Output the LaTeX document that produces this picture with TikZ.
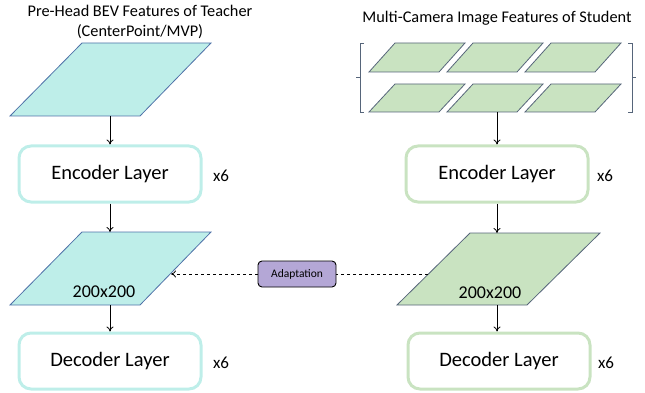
\documentclass[tikz,border=0pt]{standalone}
\usepackage{fontspec}
\setmainfont{Carlito}
\usetikzlibrary{arrows.meta}
\definecolor{tealfill}{HTML}{BEEEE9}
\definecolor{tealedge}{HTML}{4F72A8}
\definecolor{greenfill}{HTML}{C9E3C1}
\definecolor{greenedge}{HTML}{56657A}
\definecolor{adaptfill}{HTML}{B4A7D6}
\tikzset{
  conn/.style={line width=0.8pt,-{To[length=5pt,width=7pt]}},
  layerbox/.style={rounded corners=12pt,line width=3pt,minimum width=182pt,minimum height=56pt,font=\fontsize{20.5}{24}\selectfont,inner sep=0pt},
  tealbox/.style={layerbox,draw=tealfill},
  greenbox/.style={layerbox,draw=greenfill},
  times/.style={font=\fontsize{17}{19}\selectfont},
  ttl/.style={font=\fontsize{16.3}{20}\selectfont,align=center},
  tealpar/.style={fill=tealfill,draw=tealedge,line width=0.8pt},
  greenpar/.style={fill=greenfill,draw=greenedge,line width=0.8pt},
  brack/.style={draw=greenedge,line width=0.7pt},
}
\begin{document}
\begin{tikzpicture}[x=1pt,y=-1pt]
\useasboundingbox (0,0) rectangle (645,393);
% titles
\node[ttl] (t1) at (140,22) {Pre-Head BEV Features of Teacher\\(CenterPoint/MVP)};
\node[ttl] (t2) at (497,18) {Multi-Camera Image Features of Student};
% left top parallelogram
\draw[tealpar] (82,43) -- (211,43) -- (140,116) -- (10,116) -- cycle;
\coordinate (lp1b) at (110,116);
% left encoder
\node[tealbox] (lenc) at (110,174) {Encoder Layer};
\node[times] (lx1) at (221,176) {x6};
% left mid parallelogram
\draw[tealpar] (82,232) -- (211,232) -- (140,305) -- (10,305) -- cycle;
\coordinate (lp2t) at (110,232);
\coordinate (lp2b) at (110,305);
\coordinate (lp2r) at (171,274);
\node[font=\fontsize{18}{20}\selectfont] (l200) at (104,292) {200x200};
% left decoder
\node[tealbox] (ldec) at (110,361) {Decoder Layer};
\node[times] (lx2) at (221,363) {x6};
\draw[conn] (lp1b) -- (lenc.north);
\draw[conn] (lenc.south) -- (lp2t);
\draw[conn] (lp2b) -- (ldec.north);
% right: small parallelograms
\foreach \x in {369,447,525}{
  \draw[greenpar] (\x,72) -- (\x+70,72) -- (\x+96,43) -- (\x+26,43) -- cycle;
  \draw[greenpar] (\x,112) -- (\x+70,112) -- (\x+96,84) -- (\x+26,84) -- cycle;
}
\draw[brack] (364,43) -- (360,43) -- (360,112) -- (364,112);
\draw[brack] (360,77) -- (356,77);
\draw[brack] (628,43) -- (632,43) -- (632,112) -- (628,112);
\draw[brack] (632,77) -- (636,77);
\coordinate (rp1b) at (497,112);
% right encoder
\node[greenbox] (renc) at (497,174) {Encoder Layer};
\node[times] (rx1) at (605,176) {x6};
% right mid parallelogram
\draw[greenpar] (470,233) -- (600,233) -- (527,305) -- (397,305) -- cycle;
\coordinate (rp2t) at (497,233);
\coordinate (rp2b) at (497,305);
\coordinate (rp2l) at (428,274);
\node[font=\fontsize{18}{20}\selectfont] (r200) at (490,293) {200x200};
% right decoder
\node[greenbox] (rdec) at (499,361) {Decoder Layer};
\node[times] (rx2) at (606,363) {x6};
\draw[conn] (rp1b) -- (renc.north);
\draw[conn] (renc.south) -- (rp2t);
\draw[conn] (rp2b) -- (rp2b |- rdec.north);
% adaptation
\node[draw=black,fill=adaptfill,rounded corners=4pt,line width=0.9pt,minimum width=78pt,minimum height=26pt,inner sep=0pt,font=\fontsize{11.5}{13}\selectfont] (adapt) at (297,274) {Adaptation};
\draw[line width=0.8pt,dashed] (rp2l) -- (adapt.east);
\draw[line width=0.8pt,dashed,-{To[length=5pt,width=7pt]}] (adapt.west) -- (lp2r);
\end{tikzpicture}
\end{document}
